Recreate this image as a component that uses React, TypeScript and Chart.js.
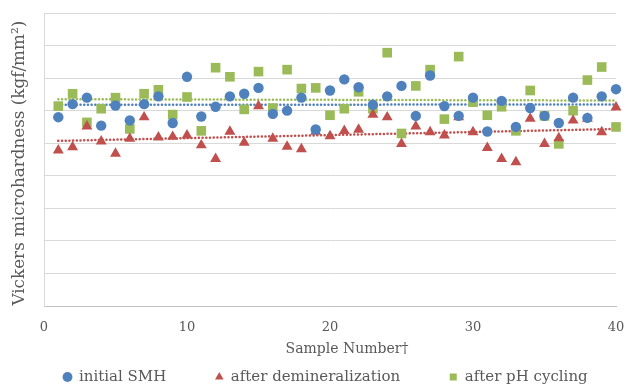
import React, { useEffect, useRef } from "react";
import { Chart, registerables } from "chart.js";

Chart.register(...registerables);

const sampleNumbers = [
  1, 2, 3, 4, 5, 6, 7, 8, 9, 10, 11, 12, 13, 14, 15, 16, 17, 18, 19, 20,
  21, 22, 23, 24, 25, 26, 27, 28, 29, 30, 31, 32, 33, 34, 35, 36, 37, 38, 39, 40,
];

const initialSMH = [
  290, 310, 320, 277, 308, 285, 310, 322, 281, 352, 291, 306, 322, 326, 335, 295, 300, 320, 271, 331,
  348, 336, 309, 322, 338, 292, 354, 307, 292, 320, 268, 315, 275, 304, 292, 281, 320, 289, 322, 333,
];

const afterDemineralization = [
  239, 244, 276, 253, 234, 257, 290, 259, 260, 262, 247, 226, 268, 251, 307, 257, 245, 241, 268, 261,
  269, 271, 294, 290, 249, 276, 267, 262, 290, 267, 243, 226, 221, 288, 249, 258, 285, 288, 267, 305,
];

const afterPHCycling = [
  307, 326, 282, 303, 320, 272, 326, 332, 294, 321, 269, 366, 352, 302, 360, 304, 363, 334, 335, 293,
  303, 329, 303, 389, 265, 338, 363, 287, 383, 313, 293, 306, 269, 331, 292, 249, 300, 347, 367, 275,
];

const xTicks = [0, 10, 20, 30, 40];
const seriesLabels = ["initial SMH", "after demineralization", "after pH cycling"];

const BLUE = "#4F81BD";
const RED = "#C0504D";
const GREEN = "#9BBB59";
const TEXT = "#595959";
const FONT = "DejaVu Serif";

function toPoints(ys: number[]) {
  return sampleNumbers.map((x, i) => ({ x, y: ys[i] }));
}

function trend(ys: number[]) {
  const n = ys.length;
  let sx = 0, sy = 0, sxx = 0, sxy = 0;
  for (let i = 0; i < n; i++) {
    const x = sampleNumbers[i];
    sx += x; sy += ys[i]; sxx += x * x; sxy += x * ys[i];
  }
  const b = (n * sxy - sx * sy) / (n * sxx - sx * sx);
  const a = (sy - b * sx) / n;
  const x0 = sampleNumbers[0];
  const x1 = sampleNumbers[n - 1];
  return [
    { x: x0, y: a + b * x0 },
    { x: x1, y: a + b * x1 },
  ];
}

function patchTitle(s: any, dx: number, dy: number) {
  if (s.__patched) return;
  const orig = s.drawTitle.bind(s);
  s.drawTitle = () => {
    s.ctx.save();
    s.ctx.translate(dx, dy);
    orig();
    s.ctx.restore();
  };
  s.__patched = true;
}

const LEGEND_PAD = 49;
const LEGEND_FONT = 15;

const legendPlacer = {
  id: "legendPlacer",
  afterLayout(chart: any) {
    const lg = chart.legend;
    if (!lg) return;
    lg.top = 377 - LEGEND_PAD - LEGEND_FONT / 2;
    lg.bottom = 388;
    lg.left = 63.5 - LEGEND_PAD;
    lg.right = 760;
  },
};

export default function App() {
  const ref = useRef<HTMLCanvasElement | null>(null);

  useEffect(() => {
    if (!ref.current) return;
    const pointBase = { showLine: false, pointBorderWidth: 0, clip: false as const };
    const trendBase = {
      showLine: true,
      pointRadius: 0,
      borderWidth: 2.5,
      borderDash: [0.1, 3.6],
      borderCapStyle: "round" as const,
      fill: false,
      clip: false as const,
    };
    const chart = new Chart(ref.current, {
      type: "scatter",
      data: {
        datasets: [
          {
            ...pointBase,
            label: seriesLabels[0],
            data: toPoints(initialSMH),
            pointStyle: "circle",
            pointRadius: 5.2,
            backgroundColor: BLUE,
            borderColor: BLUE,
          },
          {
            ...pointBase,
            label: seriesLabels[1],
            data: toPoints(afterDemineralization),
            pointStyle: "triangle",
            pointRadius: 6.3,
            backgroundColor: RED,
            borderColor: RED,
          },
          {
            ...pointBase,
            label: seriesLabels[2],
            data: toPoints(afterPHCycling),
            pointStyle: "rect",
            pointRadius: 6.8,
            backgroundColor: GREEN,
            borderColor: GREEN,
          },
          { ...trendBase, label: "trend1", data: trend(initialSMH), borderColor: BLUE },
          { ...trendBase, label: "trend2", data: trend(afterDemineralization), borderColor: RED },
          { ...trendBase, label: "trend3", data: trend(afterPHCycling), borderColor: GREEN },
        ] as any,
      },
      options: {
        animation: false,
        responsive: false,
        devicePixelRatio: 1,
        layout: { padding: { top: 13, right: 11, left: 0, bottom: 0 } },
        font: { family: FONT },
        scales: {
          x: {
            type: "linear",
            min: xTicks[0],
            max: xTicks[xTicks.length - 1],
            afterBuildTicks: (s: any) => {
              s.ticks = xTicks.map((v) => ({ value: v }));
            },
            ticks: { font: { family: FONT, size: 13 }, color: TEXT, padding: 14 },
            grid: { display: false, drawTicks: false },
            border: { color: "#bfbfbf" },
            title: {
              display: true,
              text: "Sample Number†",
              font: { family: FONT, size: 14 },
              color: TEXT,
              padding: 0,
            },
            afterFit: (s: any) => {
              s.height = 50;
              s.paddingLeft = 0;
              s.paddingRight = 0;
              patchTitle(s, 17, 2);
            },
          },
          y: {
            min: 0,
            max: 450,
            ticks: { display: false, stepSize: 50 },
            grid: { color: "#d9d9d9", drawTicks: false },
            border: { color: "#d9d9d9" },
            title: {
              display: true,
              text: "Vickers microhardness (kgf/mm²)",
              font: { family: FONT, size: 16.8 },
              color: TEXT,
              padding: { top: 9.5, bottom: 0 },
            },
            afterFit: (s: any) => {
              s.width = 44;
              s.paddingTop = 0;
              s.paddingBottom = 0;
              patchTitle(s, 0, 3.7);
            },
          },
        },
        plugins: {
          tooltip: { enabled: false },
          legend: {
            position: "bottom",
            align: "start",
            maxHeight: 32,
            labels: {
              usePointStyle: true,
              boxWidth: 8,
              boxHeight: 7,
              padding: LEGEND_PAD,
              color: TEXT,
              font: { family: FONT, size: LEGEND_FONT },
              filter: (item: any) => item.datasetIndex < 3,
            },
          },
        },
      } as any,
      plugins: [legendPlacer],
    });
    return () => chart.destroy();
  }, []);

  return (
    <div style={{ position: "fixed", left: 0, top: 0, width: 627, height: 388, background: "#fff" }}>
      <canvas ref={ref} width={627} height={388} />
    </div>
  );
}
